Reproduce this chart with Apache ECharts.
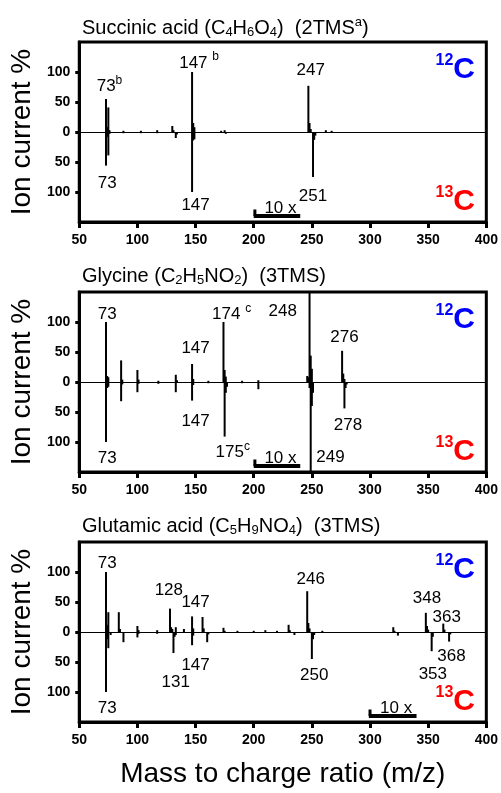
<!DOCTYPE html>
<html>
<head>
<meta charset="utf-8">
<script src="https://cdn.jsdelivr.net/npm/echarts@6/dist/echarts.min.js"></script>
<style>
  html, body { margin: 0; padding: 0; background: #fff; }
  #chart { width: 501px; height: 793px; }
</style>
</head>
<body>
<div id="chart"></div>
<script>
  // peaks: [m/z, ion current %]; 13C side is drawn downwards (negative)
  var succinic12 = [[73, 55], [74, 8], [75, 41], [76, 3], [88, 2], [103, 2], [117, 3], [130, 10], [131, 3],
    [147, 100], [148, 15], [149, 8], [172, 2], [175, 3], [247, 77], [248, 15], [249, 5], [262, 3], [267, 2]];
  var succinic13 = [[73, -56], [74, -8], [75, -39], [76, -3], [88, -2], [103, -2], [117, -2], [133, -10], [134, -4],
    [147, -100], [148, -14], [149, -12], [176, -3], [251, -75], [252, -13], [253, -6]];
  var succinicLabels = [[76, 76, '73{sup|b}'], [153, 115, '147 {sup|b}'], [249, 103, '247'],
    [74, -86, '73'], [150, -122, '147'], [251, -108, '251']];

  var glycine12 = [[73, 100], [74, 10], [75, 8], [86, 36], [87, 4], [100, 20], [101, 4], [118, 2], [133, 12], [134, 3],
    [147, 30], [148, 5], [161, 2], [174, 100], [175, 20], [176, 9], [190, 2], [204, 3], [246, 10], [247, 8],
    [248, 150], [249, 44], [250, 22], [276, 52], [277, 14], [278, 5]];
  var glycine13 = [[73, -100], [74, -10], [75, -8], [86, -32], [87, -4], [100, -17], [101, -3], [118, -3], [133, -17],
    [147, -31], [148, -5], [161, -2], [175, -91], [176, -18], [177, -8], [190, -2], [204, -12], [248, -10],
    [249, -150], [250, -40], [251, -18], [278, -44], [279, -10], [280, -4]];
  var glycineLabels = [[74, 113, '73'], [150, 56, '147'], [181, 113, '174 {sup|c}'], [225, 117, '248'], [278, 75, '276'],
    [150, -65, '147'], [281, -73, '278'], [74, -128, '73'], [182, -117, '175{sup|c}'], [266, -126, '249']];

  var glutamic12 = [[73, 100], [74, 12], [75, 33], [84, 33], [85, 5], [100, 10], [101, 3], [117, 3], [128, 39], [129, 8],
    [130, 5], [133, 8], [140, 5], [147, 26], [148, 6], [156, 25], [157, 6], [174, 7], [175, 2], [186, 2], [200, 2],
    [210, 3], [220, 2], [230, 12], [231, 3], [246, 68], [247, 15], [248, 6], [259, 2], [320, 8], [321, 2],
    [348, 32], [349, 10], [350, 4], [363, 14], [364, 4]];
  var glutamic13 = [[73, -100], [74, -12], [75, -27], [77, -5], [88, -17], [100, -9], [101, -3], [117, -3], [131, -35],
    [132, -8], [133, -5], [147, -22], [148, -6], [160, -17], [161, -4], [235, -5], [250, -45], [251, -12], [252, -5],
    [324, -6], [353, -32], [354, -8], [368, -16], [369, -4]];
  var glutamicLabels = [[74, 115, '73'], [127, 70, '128'], [150, 49, '147'], [249, 88, '246'], [349, 56, '348'],
    [366, 24, '363'], [370, -40, '368'], [354, -70, '353'], [150, -55, '147'], [133, -84, '131'], [252, -73, '250'],
    [74, -128, '73']];

  var panelTitles = [
    'Succinic acid (C{sub|4}H{sub|6}O{sub|4})  (2TMS{sup|a})',
    'Glycine (C{sub|2}H{sub|5}NO{sub|2})  (3TMS)',
    'Glutamic acid (C{sub|5}H{sub|9}NO{sub|4})  (3TMS)'
  ];
  var magnifyRanges = [[200, 240], [200, 240], [299, 340]];
  var yTickValues = [-100, -50, 0, 50, 100];

  var peaks12 = [succinic12, glycine12, glutamic12];
  var peaks13 = [succinic13, glycine13, glutamic13];
  var peakLabels = [succinicLabels, glycineLabels, glutamicLabels];

  var FONT = '"Liberation Sans", Arial, sans-serif';
  var chart = echarts.init(document.getElementById('chart'));

  var grids = [], xAxes = [], yAxes = [], series = [], titles = [];
  for (var i = 0; i < 3; i++) {
    grids.push({
      left: 78, right: 13, top: 42 + 250 * i, height: 180,
      show: true, borderColor: '#000', borderWidth: 3
    });
    xAxes.push({
      gridIndex: i, type: 'value', min: 50, max: 400, interval: 50,
      axisLine: { show: true, onZero: false, lineStyle: { color: '#000', width: 3 } },
      axisTick: { show: true, length: 6, lineStyle: { color: '#000', width: 3 } },
      axisLabel: { color: '#000', fontSize: 14, fontWeight: 'bold', fontFamily: FONT, margin: 11 },
      splitLine: { show: false },
      name: i === 2 ? 'Mass to charge ratio (m/z)' : '',
      nameLocation: 'middle', nameGap: 38,
      nameTextStyle: { color: '#000', fontSize: 28, fontFamily: FONT }
    });
    yAxes.push({
      gridIndex: i, type: 'value', min: -150, max: 150,
      axisLine: { show: true, lineStyle: { color: '#000', width: 3 } },
      axisTick: { show: true, length: 4, customValues: yTickValues, lineStyle: { color: '#000', width: 3 } },
      axisLabel: {
        color: '#000', fontSize: 14, fontWeight: 'bold', fontFamily: FONT, margin: 9,
        customValues: yTickValues,
        formatter: function (v) { return String(Math.abs(v)); }
      },
      splitLine: { show: false },
      name: 'Ion current %', nameLocation: 'middle', nameGap: 43, nameRotate: 90,
      nameTextStyle: { color: '#000', fontSize: 28, fontFamily: FONT }
    });

    series.push({
      name: '12C', type: 'bar', xAxisIndex: i, yAxisIndex: i,
      data: peaks12[i], barWidth: 2, barGap: '-100%',
      itemStyle: { color: '#000' },
      markLine: {
        silent: true, symbol: 'none', label: { show: false },
        lineStyle: { color: '#000', width: 1, type: 'solid' },
        data: [{ yAxis: 0 }]
      }
    });
    series.push({
      name: '13C', type: 'bar', xAxisIndex: i, yAxisIndex: i,
      data: peaks13[i], barWidth: 2, barGap: '-100%',
      itemStyle: { color: '#000' }
    });

    // "10 x" magnification marker
    var r = magnifyRanges[i];
    series.push({
      type: 'line', xAxisIndex: i, yAxisIndex: i, symbol: 'none',
      lineStyle: { color: '#000', width: 4 },
      data: [[r[0], -140], [r[1], -140]]
    });
    series.push({
      type: 'line', xAxisIndex: i, yAxisIndex: i, symbol: 'none',
      lineStyle: { color: '#000', width: 3 },
      data: [[r[0] + 1, -140], [r[0] + 1, -129]]
    });

    var labelData = peakLabels[i].concat([[(r[0] + r[1]) / 2 + 3, -128, '10 x']]);
    series.push({
      type: 'scatter', xAxisIndex: i, yAxisIndex: i,
      symbolSize: 0, itemStyle: { color: '#000', opacity: 1 },
      data: labelData,
      label: {
        show: true, position: 'inside', color: '#000', opacity: 1, fontSize: 17, fontFamily: FONT,
        textBorderWidth: 0,
        formatter: function (p) { return p.data[2]; },
        rich: {
          sup: { fontSize: 12, fontFamily: FONT, color: '#000', padding: [0, 0, 12, 0] }
        }
      }
    });

    titles.push({
      text: panelTitles[i], left: 77, top: 11 + 250 * i,
      textStyle: {
        color: '#000', fontSize: 20, fontWeight: 'normal', fontFamily: FONT,
        rich: {
          sub: { fontSize: 13, fontFamily: FONT, color: '#000', padding: [8, 0, 0, 0] },
          sup: { fontSize: 13, fontFamily: FONT, color: '#000', padding: [0, 0, 11, 0] }
        }
      }
    });
    titles.push({
      text: '{s|12}{c|C}', right: 21, top: 48 + 250 * i,
      textStyle: {
        rich: {
          s: { fontSize: 16, fontWeight: 'bold', fontFamily: FONT, color: '#0000ff', padding: [0, 0, 18, 0] },
          c: { fontSize: 30, fontWeight: 'bold', fontFamily: FONT, color: '#0000ff' }
        }
      }
    });
    titles.push({
      text: '{s|13}{c|C}', right: 21, top: 180 + 250 * i,
      textStyle: {
        rich: {
          s: { fontSize: 16, fontWeight: 'bold', fontFamily: FONT, color: '#ff0000', padding: [0, 0, 18, 0] },
          c: { fontSize: 30, fontWeight: 'bold', fontFamily: FONT, color: '#ff0000' }
        }
      }
    });
  }

  chart.setOption({
    animation: false,
    title: titles,
    grid: grids,
    xAxis: xAxes,
    yAxis: yAxes,
    series: series
  });
</script>
</body>
</html>
